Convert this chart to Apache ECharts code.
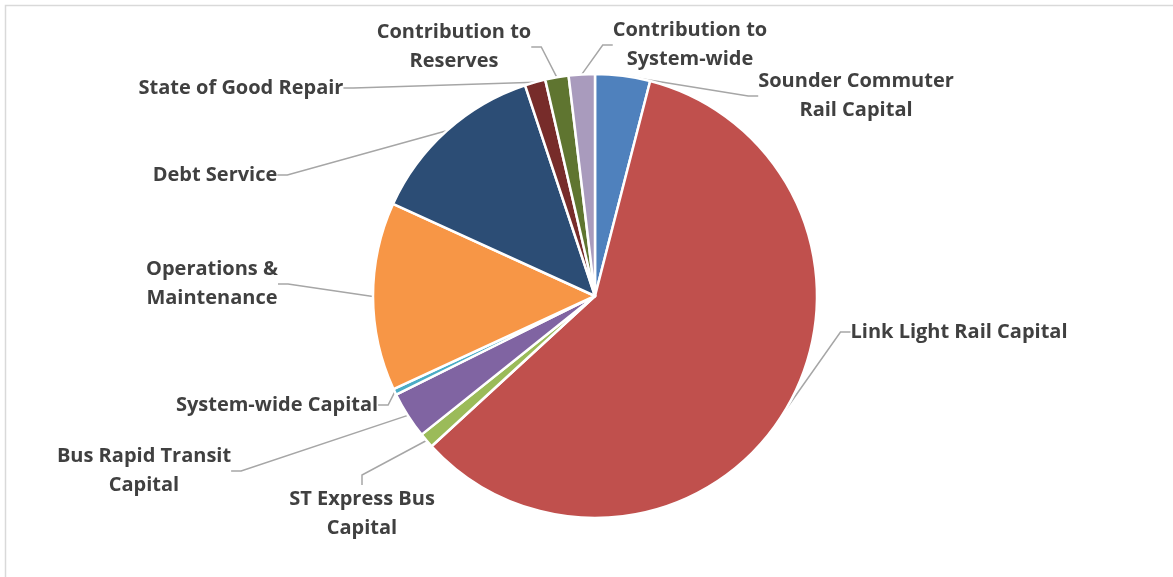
<!DOCTYPE html>
<html>
<head>
<meta charset="utf-8">
<script src="https://cdn.jsdelivr.net/npm/echarts@6/dist/echarts.min.js"></script>
<style>
html,body{margin:0;padding:0;background:#fff;}
#chart{width:1173px;height:577px;}
</style>
</head>
<body>
<div id="chart"></div>
<script>
// Data (percent of total)
const categories = [
  'Sounder Commuter\nRail Capital',
  'Link Light Rail Capital',
  'ST Express Bus\nCapital',
  'Bus Rapid Transit\nCapital',
  'System-wide Capital',
  'Operations &\nMaintenance',
  'Debt Service',
  'State of Good Repair',
  'Contribution to\nReserves',
  'Contribution to\nSystem-wide'
];
const values = [4.0, 59.2, 1.1, 3.4, 0.45, 13.7, 13.1, 1.5, 1.7, 1.9];
const colors = ['#4F81BD','#C0504D','#9BBB59','#8064A2','#4BACC6','#F79646','#2C4D75','#772C2A','#5F7530','#A99BBD'];
// label block centres (layout, not data)
const labelPos = [[856,96],[959,332],[362,514],[144,471],[277,405],[212,284],[215,175],[241,88],[454,47],[690,45]];

const chart = echarts.init(document.getElementById('chart'), null, {renderer:'canvas'});
chart.setOption({
  animation:false,
  backgroundColor:'#ffffff',
  color: colors,
  graphic:[{
    type:'polyline',
    shape:{points:[[5.5,577],[5.5,5.5],[1173,5.5]]},
    style:{stroke:'#d9d9d9',lineWidth:1.5,fill:null}
  }],
  series:[{
    type:'pie',
    center:[595,296],
    radius:222,
    startAngle:90,
    clockwise:true,
    avoidLabelOverlap:false,
    itemStyle:{borderColor:'#ffffff',borderWidth:2.5},
    label:{
      show:true,
      position:'outside',
      formatter:'{b}',
      fontFamily:'"Open Sans", sans-serif',
      fontWeight:'bold',
      fontSize:20,
      lineHeight:29,
      color:'#404040',
      align:'center'
    },
    labelLine:{
      show:true,
      length:15,
      length2:10,
      lineStyle:{color:'#a6a6a6',width:1.5}
    },
    labelLayout:function(p){
      const pos = labelPos[p.dataIndex];
      return {x:pos[0], y:pos[1], align:'center', verticalAlign:'middle'};
    },
    data: categories.map((c,i)=>({name:c, value:values[i]}))
  }]
});
</script>
</body>
</html>
